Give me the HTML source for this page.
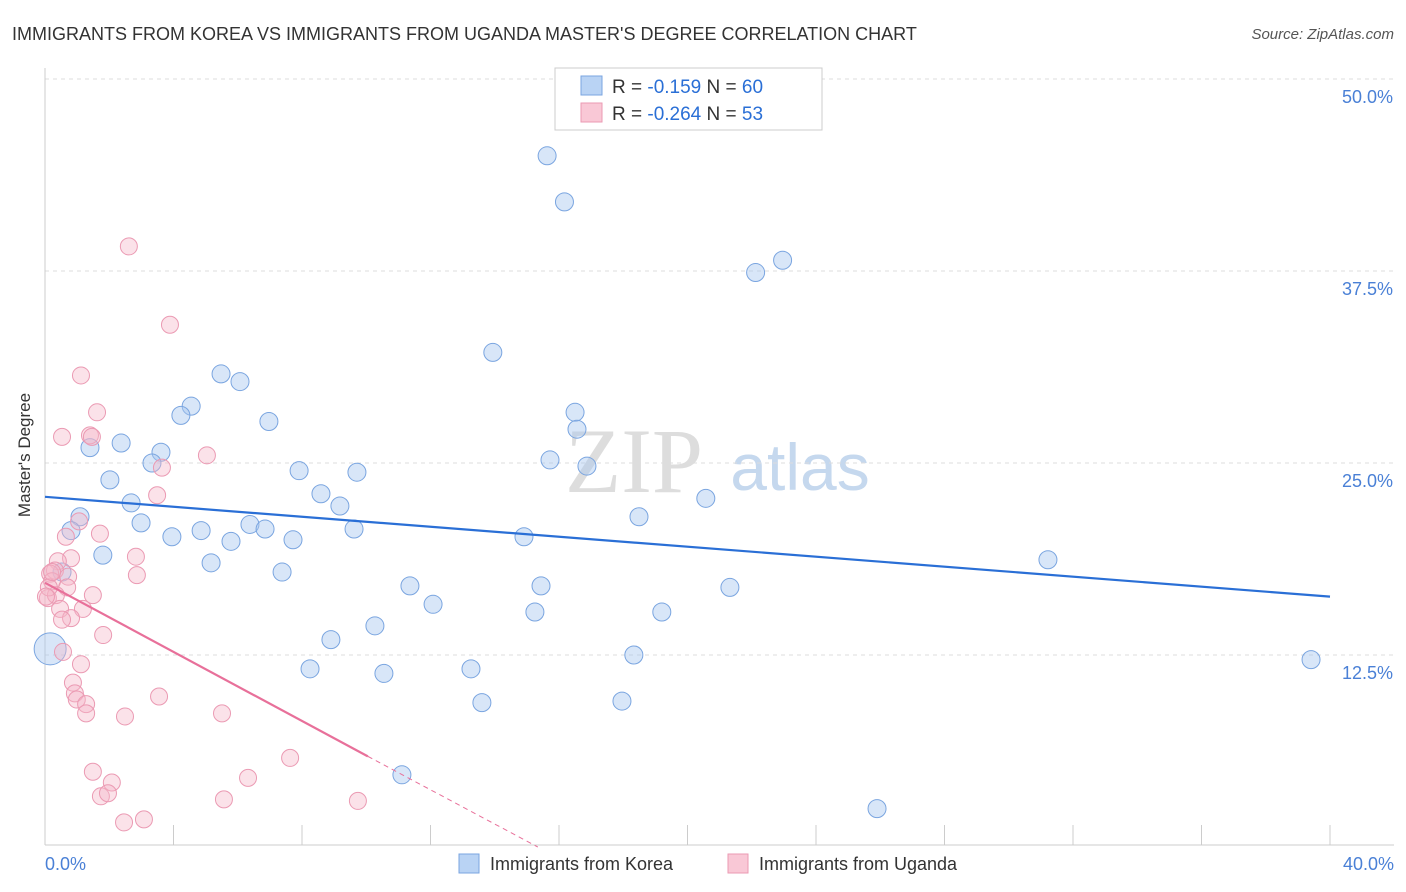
<!DOCTYPE html>
<html><head><meta charset="utf-8"><style>
body{margin:0;background:#fff;font-family:"Liberation Sans",sans-serif}
svg{display:block}
</style></head><body>
<svg width="1406" height="892" id="c">
<text x="12" y="40" font-size="18" fill="#333">IMMIGRANTS FROM KOREA VS IMMIGRANTS FROM UGANDA MASTER'S DEGREE CORRELATION CHART</text>
<text x="1394" y="39" font-size="15" fill="#555" font-style="italic" text-anchor="end">Source: ZipAtlas.com</text>
<text x="634" y="492" font-size="92" fill="#ddd" font-family="Liberation Serif,serif" text-anchor="middle">ZIP</text>
<text x="800" y="490" font-size="66" fill="#c5d8ee" text-anchor="middle">atlas</text>
<g id="grid"></g>
<line x1="45" y1="68" x2="45" y2="845" stroke="#ccc"/>
<line x1="45" y1="845" x2="1394" y2="845" stroke="#ccc"/>
<text x="30" y="455" font-size="17" fill="#333" transform="rotate(-90 30 455)" text-anchor="middle">Master's Degree</text>
<text x="45" y="870" font-size="18" fill="#4a80d6">0.0%</text>
<text x="1394" y="870" font-size="18" fill="#4a80d6" text-anchor="end">40.0%</text>
<g id="pts"></g>
<g id="lines"></g>
<g>
<rect x="555" y="68" width="267" height="62" fill="#fff" stroke="#ccc"/>
<rect x="581" y="76" width="21" height="19" fill="#b9d3f4" stroke="#7aa5e0"/>
<rect x="581" y="103" width="21" height="19" fill="#f9c8d6" stroke="#eb9ab3"/>
<text x="612" y="93" font-size="19" fill="#333">R = <tspan fill="#2a6fd6">-0.159</tspan>   N = <tspan fill="#2a6fd6">60</tspan></text>
<text x="612" y="120" font-size="19" fill="#333">R = <tspan fill="#2a6fd6">-0.264</tspan>   N = <tspan fill="#2a6fd6">53</tspan></text>
</g>
<g>
<rect x="459" y="854" width="20" height="19" fill="#b9d3f4" stroke="#7aa5e0"/>
<text x="490" y="870" font-size="18" fill="#333">Immigrants from Korea</text>
<rect x="728" y="854" width="20" height="19" fill="#f9c8d6" stroke="#eb9ab3"/>
<text x="759" y="870" font-size="18" fill="#333">Immigrants from Uganda</text>
</g>
</svg>
<script>
const yTicks=[12.5,25,37.5,50];
const xTickVals=[0,4,8,12,16,20,24,28,32,36,40];
const koreaX=[15.63,16.17,22.12,22.96,13.94,5.48,6.07,4.55,4.23,6.97,16.5,16.56,2.37,1.4,3.61,3.33,15.72,16.87,7.91,9.71,2.02,8.59,2.68,9.18,20.57,1.09,2.99,18.49,6.38,9.62,0.81,4.86,6.85,3.95,5.79,7.72,14.91,1.8,31.22,5.17,7.38,0.53,11.36,15.44,21.32,12.08,15.25,19.2,10.27,8.9,18.33,39.41,8.25,13.26,10.55,13.6,17.96,11.11,25.9,0.16];
const koreaY=[45.0,42.0,37.4,38.2,32.2,30.8,30.3,28.7,28.1,27.7,28.3,27.2,26.3,26.0,25.7,25.0,25.2,24.8,24.5,24.4,23.9,23.0,22.4,22.2,22.7,21.5,21.1,21.5,21.0,20.7,20.6,20.6,20.7,20.2,19.9,20.0,20.2,19.0,18.7,18.5,17.9,17.9,17.0,17.0,16.9,15.8,15.3,15.3,14.4,13.5,12.5,12.2,11.6,11.6,11.3,9.4,9.5,4.7,2.5,12.9];
const koreaR=[9,9,9,9,9,9,9,9,9,9,9,9,9,9,9,9,9,9,9,9,9,9,9,9,9,9,9,9,9,9,9,9,9,9,9,9,9,9,9,9,9,9,9,9,9,9,9,9,9,9,9,9,9,9,9,9,9,9,9,16];
const ugX=[2.61,3.89,1.12,1.62,0.53,1.4,1.46,5.04,3.64,3.49,1.06,0.65,1.71,2.83,0.81,0.4,2.86,0.31,0.72,0.16,0.22,0.69,1.49,0.09,0.34,1.18,0.47,0.81,0.53,1.81,0.56,1.12,0.87,3.55,5.51,0.93,0.99,1.28,1.28,2.49,7.63,6.32,1.49,2.08,1.74,1.96,5.57,9.74,2.46,3.08,0.12,0.22,0.03];
const ugY=[39.1,34.0,30.7,28.3,26.7,26.8,26.7,25.5,24.7,22.9,21.2,20.2,20.4,18.9,18.8,18.6,17.7,18.0,17.6,17.8,17.3,16.9,16.4,16.2,16.4,15.5,15.5,14.9,14.8,13.8,12.7,11.9,10.7,9.8,8.7,10.0,9.6,9.3,8.7,8.5,5.8,4.5,4.9,4.2,3.3,3.5,3.1,3.0,1.6,1.8,16.9,17.9,16.3];
const koreaLine=[22.8,16.3], ugLine=[17.2,5.9], ugDashEnd=[15.34,0];
const sx=v=>45+v/40*1285, sy=v=>847-v/12.5*192;
const NS='http://www.w3.org/2000/svg';
function mk(t,a,p){const e=document.createElementNS(NS,t);for(const k in a)e.setAttribute(k,a[k]);p.appendChild(e);return e;}
const g=document.getElementById('grid');
yTicks.forEach(v=>{
 const l=mk('line',{x1:45,x2:1394,y1:sy(v),y2:sy(v),stroke:'#ddd','stroke-dasharray':'4,4'},g);
 
 
 const t=mk('text',{x:1393,y:sy(v)+24,'font-size':18,fill:'#4a80d6','text-anchor':'end'},g);
 t.textContent=v.toFixed(1)+'%';
 
 
});
xTickVals.forEach(v=>{
 const l=mk('line',{x1:sx(v),x2:sx(v),y1:825,y2:845,stroke:'#ccc'},g);
 
 
});
const p=document.getElementById('pts');
koreaX.forEach((x,i)=>{
 const c=mk('circle',{cx:sx(x),cy:sy(koreaY[i]),r:koreaR[i],fill:'rgba(169,200,240,0.45)',stroke:'#7aa5e0','stroke-width':1},p);
 
 
});
ugX.forEach((x,i)=>{
 const c=mk('circle',{cx:sx(x),cy:sy(ugY[i]),r:8.5,fill:'rgba(244,182,200,0.4)',stroke:'#eb9ab3','stroke-width':1},p);
 
 
});
const L=document.getElementById('lines');
const k=mk('line',{x1:sx(0),y1:sy(koreaLine[0]),x2:sx(40),y2:sy(koreaLine[1]),stroke:'#2a6fd6','stroke-width':2.2},L);


const u=mk('line',{x1:sx(0),y1:sy(ugLine[0]),x2:sx(10.05),y2:sy(ugLine[1]),stroke:'#e8709a','stroke-width':2.2},L);


const ud=mk('line',{x1:sx(10.05),y1:sy(ugLine[1]),x2:sx(ugDashEnd[0]),y2:sy(ugDashEnd[1]),stroke:'#e8709a','stroke-width':1,'stroke-dasharray':'5,4'},L);


</script>
</body></html>
